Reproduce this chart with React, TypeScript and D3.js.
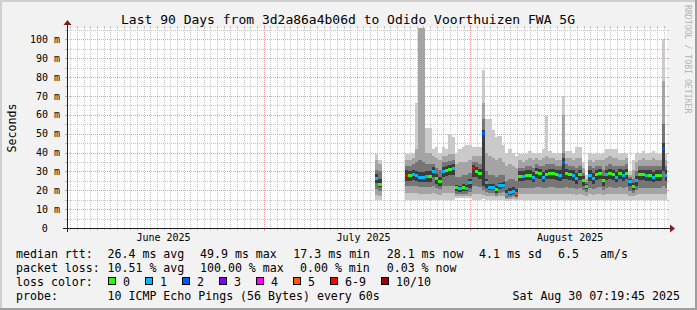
import React from 'react';
import * as d3 from 'd3';

// ---------- data ----------
const TITLE = 'Last 90 Days from 3d2a86a4b06d to Odido Voorthuizen FWA 5G';
const Y_LABEL = 'Seconds';
const WATERMARK = 'RRDTOOL / TOBI OETIKER';
const Y_MAX = 106;
const Y_TICKS = [0, 10, 20, 30, 40, 50, 60, 70, 80, 90, 100];
const Y_TICK_LABELS = ['0', '10 m', '20 m', '30 m', '40 m', '50 m', '60 m', '70 m', '80 m', '90 m', '100 m'];
const MONTH_LABELS = ['June 2025', 'July 2025', 'August 2025'];

const START = new Date(2025, 5, 1, 12, 36);
const END = new Date(2025, 7, 30, 12, 36);
const DATA_START = new Date(2025, 6, 17, 5, 0); // 12h steps

const N = null;
// median rtt (ms) per 12h step
const MEDIAN = [N, 26.4, 23, N, N, N, N, N, N, N,
  28, 27.7, 28.6, 27.7, 27, 27, 27.3, 27.3, 30, 26,
  24.6, 30, 30.4, 31, 31.5, 21.4, 20.8, 21.5, 21, 24.1,
  31.6, 30, 29, 50, 24, 21.4, 21.4, 20.2, 22.3, 22.7,
  17.9, 18.8, 19.6, 18.4, 27.5, 27.3, 28, 28, 27, 29.5,
  29, 27, 28.5, 29, 29, 28.5, 28, 34.5, 29, 28.5,
  28, 26.5, 28.5, 25, 22, 28, 26.5, 28.5, 29, 25,
  28.5, 29, 28.5, 27, 29, 28, 29, 24.5, 22, 25,
  28.5, 28.5, 28, 28, 27, 28, 28, 42, 28];
// loss color index (0..7)
const LOSS = [0, 1, 0, 0, 0, 0, 0, 0, 0, 0,
  6, 0, 1, 1, 1, 1, 1, 0, 1, 0,
  0, 1, 0, 0, 1, 0, 1, 0, 1, 1,
  6, 0, 0, 2, 1, 1, 1, 0, 1, 1,
  1, 1, 1, 5, 0, 1, 0, 0, 1, 0,
  0, 1, 0, 0, 0, 0, 1, 2, 0, 0,
  1, 1, 0, 0, 0, 1, 1, 0, 0, 0,
  1, 0, 0, 1, 0, 1, 0, 1, 0, 1,
  0, 0, 1, 0, 1, 0, 0, 2, 1];
// smoke band edges (ms), outermost to innermost
const TOP1 = [N, 39, 36, N, N, N, N, N, N, N,
  39, 39, 40, 66, 107, 107, 53, 53, 42, 43,
  40, 43, 42, 50, 48, 40, 42, 43, 44, 44,
  43, 43, 43, 84, 58, 58, 52, 48, 49, 44,
  40, 42, 40, 38, 39, 39, 40, 41, 40, 40,
  40, 42, 60, 41, 40, 39, 40, 70, 41, 41,
  40, 43, 43, 35, 28, 40, 39, 40, 39, 40,
  42, 42, 42, 42, 40, 40, 40, 30, 36, 40,
  40, 41, 39, 40, 41, 40, 39, 100, 40];
const TOP2 = [N, 36, 34, N, N, N, N, N, N, N,
  36, 36, 37, 42, 107, 107, 40, 40, 38, 37,
  36, 38, 38, 39, 39, 34, 35, 35, 35, 36,
  38, 38, 38, 66, 40, 38, 37, 36, 37, 35,
  33, 34, 33, 32, 36, 35, 36, 37, 36, 37,
  36, 37, 38, 37, 37, 36, 36, 60, 37, 37,
  36, 37, 37, 32, 26, 36, 35, 36, 36, 36,
  37, 38, 37, 37, 36, 36, 37, 28, 31, 35,
  36, 37, 36, 36, 37, 36, 36, 78, 36];
const TOP3 = [N, 31, 30, N, N, N, N, N, N, N,
  33, 33, 34, 35, 36, 35, 34, 34, 34, 32,
  31, 35, 35, 35.5, 36, 27, 27, 28, 28, 29,
  35, 35, 34, 58, 30, 28, 28, 27, 28, 28,
  25, 26, 26, 25, 32, 32, 33, 33, 32, 34,
  33, 33, 34, 34, 34, 33, 33, 40, 34, 33,
  33, 32, 33, 29, 24.5, 33, 32, 33, 33, 31,
  33, 34, 33, 33, 33, 33, 34, 27, 26, 30,
  33, 33, 33, 33, 33, 33, 33, 55, 33];
const TOP4 = [N, 28.5, 26, N, N, N, N, N, N, N,
  30.5, 30, 31, 30, 29.5, 29.5, 30, 30, 32.5, 28.5,
  27, 32.5, 33, 33.5, 34, 23, 22.5, 23.5, 23, 26,
  33.5, 32.5, 31.5, 52, 26, 23.5, 23.5, 22, 24, 24.5,
  20, 21, 21.5, 20.5, 30, 30, 30.5, 30.5, 29.5, 32,
  31.5, 29.5, 31, 31.5, 31.5, 31, 30.5, 37, 31.5, 31,
  30.5, 29, 31, 27.5, 23.5, 30.5, 29, 31, 31.5, 27.5,
  31, 31.5, 31, 29.5, 31.5, 30.5, 31.5, 26, 24, 27.5,
  31, 31, 30.5, 30.5, 29.5, 30.5, 30.5, 45, 30.5];
const BOT4 = [N, 24, 21.5, N, N, N, N, N, N, N,
  25, 25, 25.5, 25, 24.5, 24.5, 24.5, 24.5, 27, 23.5,
  22, 27, 27.5, 28, 28, 19.5, 19, 19.5, 19.5, 21,
  27, 27, 26, 22, 21, 20, 20, 18.5, 20.5, 21,
  16.8, 17.5, 18, 17, 25, 25, 25.5, 25.5, 24.5, 26.5,
  26, 24.5, 26, 26, 26, 25.5, 25, 26, 26, 25.5,
  25, 23.5, 25.5, 22.5, 20.5, 25, 23.5, 25.5, 26, 22.5,
  25.5, 26, 25.5, 24.5, 26, 25, 26, 22, 20, 22.5,
  25.5, 25.5, 25, 25, 24.5, 25, 25, 30, 25];
const BOT3 = [N, 20.5, 19.5, N, N, N, N, N, N, N,
  22, 22, 22, 22, 21.5, 21.5, 21.5, 21.5, 22, 21,
  20.5, 22, 22, 22.5, 22.5, 18, 18, 18, 18, 19,
  22, 22, 21.5, 20, 19, 18.5, 18.5, 17.5, 18.5, 19,
  16, 16.5, 17, 16.5, 21, 21, 21, 21, 21, 21.5,
  21.5, 21, 21, 21.5, 21.5, 21, 21, 21, 21.5, 21,
  21, 20.5, 21, 20, 19, 21, 20.5, 21, 21.5, 20,
  21, 21.5, 21, 21, 21.5, 21, 21.5, 19.5, 18.5, 20,
  21, 21, 21, 21, 21, 21, 21, 22, 21];
const BOT2 = [N, 17.5, 17, N, N, N, N, N, N, N,
  18.5, 18.5, 18.5, 18.5, 18, 18, 18, 18, 18.5, 18,
  17.5, 18.5, 18.5, 18.5, 18.5, 17, 17, 17, 17, 17,
  18, 18, 18, 17.5, 17, 17, 17, 16.5, 17, 17,
  15.5, 15.5, 16, 15.5, 18, 18, 18, 18, 18, 18,
  18, 18, 18, 18, 18, 18, 18, 18, 18, 18,
  18, 17.5, 18, 17.5, 17, 18, 17.5, 18, 18, 17.5,
  18, 18, 18, 18, 18, 18, 18, 17, 17, 17.5,
  18, 18, 18, 18, 18, 18, 18, 18, 18];
const BOT1 = [N, 15, 15, N, N, N, N, N, N, N,
  15, 15, 15, 15, 15, 15, 15, 15, 15, 15,
  15, 15, 15, 15, 15, 16, 16, 16, 16, 16,
  15, 15, 15, 15.5, 15, 15, 15, 15, 15, 15,
  14.5, 14.5, 15, 14.5, 15, 15, 15, 15, 15, 15,
  15, 15, 15, 15, 15, 15, 15, 15, 15, 15,
  15, 15, 15, 15, 15, 15, 15, 15, 15, 15,
  15, 15, 15, 15, 15, 15, 15, 15, 15, 15,
  15, 15, 15, 15, 15, 15, 15, 15, 15];

const MEDIAN_STATS = ['26.4 ms avg', '49.9 ms max', '17.3 ms min', '28.1 ms now', '4.1 ms sd', '6.5', 'am/s'];
const LOSS_STATS = ['10.51 % avg', '100.00 % max', '0.00 % min', '0.03 % now'];
const LOSS_LABELS = ['0', '1', '2', '3', '4', '5', '6-9', '10/10'];
const LOSS_COLORS = ['#26ff00', '#00b8ff', '#0059ff', '#7e00ff', '#ff00ff', '#ff5500', '#ff0000', '#a10000'];
const PROBE = '10 ICMP Echo Pings (56 Bytes) every 60s';
const STAMP = 'Sat Aug 30 07:19:45 2025';

// ---------- layout ----------
const W = 697, H = 310;
const L = 67, R = 667, T = 28, B = 228;
const FONT = '"DejaVu Sans Mono", monospace';
const BAND_COLORS = ['#cacaca', '#a4a4a4', '#767676', '#3c3c3c'];
const STAT_X = [107.5, 200, 293.3, 386.7, 479, 558, 600];
const LOSS_STAT_X = [107.5, 200, 300, 386.7];
const BOX_X = [108, 145, 182, 219, 256, 293, 330, 381];

export default function App() {
  const x = d3.scaleTime().domain([START, END]).range([L, R]);
  const y = d3.scaleLinear().domain([0, Y_MAX]).range([B, T]);
  const t0 = (i: number) => d3.timeHour.offset(DATA_START, 12 * i);

  const days = d3.timeDay.range(d3.timeDay.ceil(START), END).filter((d) => d.getDate() !== 1);
  const months = d3.timeMonth.range(d3.timeMonth.ceil(START), END);
  const labelMonths = d3.timeMonth.range(d3.timeMonth.floor(START), END);
  const minorY = d3.range(5, Y_MAX, 5).filter((v) => v % 10 !== 0);
  const majorY = Y_TICKS.filter((v) => v > 0);

  const px = (v: number) => Math.round(v) + 0.5;
  const bands = [[TOP1, BOT1], [TOP2, BOT2], [TOP3, BOT3], [TOP4, BOT4]];
  const idx = MEDIAN.map((m, i) => (m == null ? -1 : i)).filter((i) => i >= 0);

  const gridMinor = 'rgba(143,143,143,0.5)';
  const gridMajor = 'rgba(222,79,79,0.55)';

  return (
    <svg width={W} height={H} style={{ position: 'fixed', left: 0, top: 0, display: 'block' }}
      fontFamily={FONT}>
      <defs>
        <clipPath id="plot"><rect x={L} y={T} width={R - L} height={B - T} /></clipPath>
      </defs>
      <rect x={0} y={0} width={W} height={H} fill="#f2f2f2" />
      <rect x={0} y={0} width={W} height={2} fill="#cfcfcf" />
      <rect x={0} y={0} width={2} height={H} fill="#cfcfcf" />
      <rect x={0} y={H - 2} width={W} height={2} fill="#9e9e9e" />
      <rect x={W - 2} y={0} width={2} height={H} fill="#9e9e9e" />
      <rect x={L} y={T} width={R - L} height={B - T} fill="#ffffff" />

      {/* grid */}
      <g shapeRendering="crispEdges">
        {days.map((d, i) => (
          <g key={'d' + i}>
            <line x1={px(x(d))} x2={px(x(d))} y1={T} y2={B} stroke={gridMinor} strokeDasharray="1,1" />
            <line x1={px(x(d))} x2={px(x(d))} y1={B} y2={B + 2} stroke={gridMinor} />
            <line x1={px(x(d))} x2={px(x(d))} y1={T - 2} y2={T} stroke={gridMinor} />
          </g>
        ))}
        {minorY.map((v) => (
          <g key={'m' + v}>
            <line x1={L} x2={R} y1={px(y(v))} y2={px(y(v))} stroke={gridMinor} strokeDasharray="1,1" />
            <line x1={L - 2} x2={L} y1={px(y(v))} y2={px(y(v))} stroke={gridMinor} />
            <line x1={R} x2={R + 2} y1={px(y(v))} y2={px(y(v))} stroke={gridMinor} />
          </g>
        ))}
        {majorY.map((v) => (
          <g key={'M' + v}>
            <line x1={L} x2={R} y1={px(y(v))} y2={px(y(v))} stroke={gridMajor} strokeDasharray="1,1" />
            <line x1={L - 2} x2={L} y1={px(y(v))} y2={px(y(v))} stroke={gridMajor} />
            <line x1={R} x2={R + 2} y1={px(y(v))} y2={px(y(v))} stroke={gridMajor} />
          </g>
        ))}
        {months.map((d, i) => (
          <g key={'mo' + i}>
            <line x1={px(x(d))} x2={px(x(d))} y1={T} y2={B} stroke={gridMajor} strokeDasharray="1,1" />
            <line x1={px(x(d))} x2={px(x(d))} y1={B} y2={B + 3} stroke={gridMajor} />
            <line x1={px(x(d))} x2={px(x(d))} y1={T - 3} y2={T} stroke={gridMajor} />
          </g>
        ))}
      </g>

      {/* smoke */}
      <g clipPath="url(#plot)" shapeRendering="crispEdges">
        {bands.map(([top, bot], b) => (
          <g key={'b' + b} fill={BAND_COLORS[b]}>
            {idx.map((i) => {
              const x0 = x(t0(i));
              const x1 = x(t0(i + 1));
              const yt = y(top[i] as number);
              const yb = y(bot[i] as number);
              return <rect key={i} x={x0} y={yt} width={x1 - x0} height={yb - yt} />;
            })}
          </g>
        ))}
        {idx.map((i) => {
          const x0 = x(t0(i));
          const x1 = x(t0(i + 1));
          const ym = y(MEDIAN[i] as number);
          return <rect key={'med' + i} x={x0} y={ym - 1.5} width={x1 - x0} height={3} fill={LOSS_COLORS[LOSS[i]]} />;
        })}
      </g>

      {/* axes */}
      <line x1={L - 4} x2={R + 4} y1={B + 0.5} y2={B + 0.5} stroke="#1f1f1f" />
      <line x1={L + 0.5} x2={L + 0.5} y1={B + 4} y2={T - 4} stroke="#1f1f1f" />
      <path d={`M${R + 3},${B - 3.5} L${R + 8},${B + 0.5} L${R + 3},${B + 4.5} Z`} fill="#801f1f" />
      <path d={`M${L - 3.5},${T - 3} L${L + 0.5},${T - 8} L${L + 4.5},${T - 3} Z`} fill="#801f1f" />

      {/* axis labels */}
      <g fontSize={10} fill="#000">
        {Y_TICKS.map((v, i) => (
          <text key={'yl' + v} x={Y_TICK_LABELS[i].includes(' ') ? 60 : 47.8} y={y(v) + 3.6} textAnchor="end">
            {Y_TICK_LABELS[i]}
          </text>
        ))}
        {labelMonths.map((d, i) => (
          <text key={'ml' + i} x={x(d3.timeDay.offset(d, 15))} y={241} textAnchor="middle">
            {MONTH_LABELS[i]}
          </text>
        ))}
      </g>

      {/* title & labels */}
      <text x={348} y={23.5} fontSize={13} textAnchor="middle" fill="#000">{TITLE}</text>
      <text transform={`translate(15.5,${(T + B) / 2}) rotate(-90)`} fontSize={11.6} textAnchor="middle" fill="#000">{Y_LABEL}</text>
      <text transform="translate(685,5) rotate(90)" fontSize={8.2} fill="#b4b4b4">{WATERMARK}</text>

      {/* legend */}
      <g fontSize={11.6} fill="#000" style={{ whiteSpace: 'pre' }}>
        <text x={16} y={257.5}>median rtt:</text>
        {MEDIAN_STATS.map((s, i) => (
          <text key={'ms' + i} x={STAT_X[i]} y={257.5}>{s}</text>
        ))}
        <text x={16} y={271.5}>packet loss:</text>
        {LOSS_STATS.map((s, i) => (
          <text key={'ls' + i} x={LOSS_STAT_X[i]} y={271.5}>{s}</text>
        ))}
        <text x={16} y={285.5}>loss color:</text>
        {LOSS_LABELS.map((s, i) => (
          <g key={'lc' + i}>
            <rect x={BOX_X[i] + 0.5} y={277.5} width={7} height={7} fill={LOSS_COLORS[i]} stroke="#000" shapeRendering="crispEdges" />
            <text x={BOX_X[i] + 15} y={285.5}>{s}</text>
          </g>
        ))}
        <text x={16} y={299.5}>probe:</text>
        <text x={107.5} y={299.5}>{PROBE}</text>
        <text x={680} y={299.5} textAnchor="end">{STAMP}</text>
      </g>
    </svg>
  );
}
